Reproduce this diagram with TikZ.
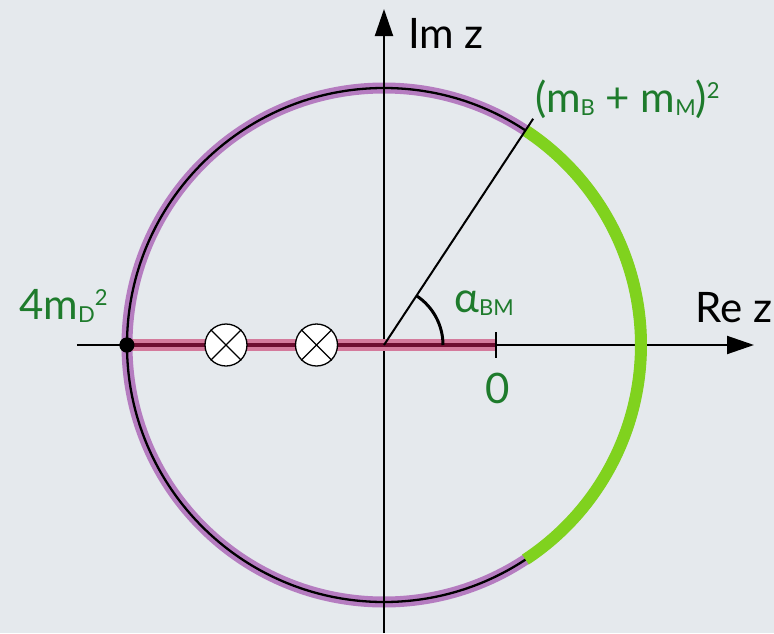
\documentclass[tikz,border=0pt]{standalone}
\usepackage{fontspec}
\setmainfont{Lato}
\usetikzlibrary{arrows.meta}
\definecolor{bgcol}{HTML}{E5E9ED}
\definecolor{ringpurple}{HTML}{B57CC0}
\definecolor{arcgreen}{HTML}{80D21E}
\definecolor{cutpink}{HTML}{D47A9C}
\definecolor{cutdark}{HTML}{6E0D30}
\definecolor{labgreen}{HTML}{1E7B2C}
\newcommand{\lowidx}[1]{\raisebox{-3.5pt}{\fontsize{22}{22}\selectfont #1}}
\newcommand{\highidx}[1]{\raisebox{14pt}{\fontsize{22}{22}\selectfont #1}}

\begin{document}
\begin{tikzpicture}[x=1pt,y=1pt,
    bigtext/.style={font=\fontsize{42}{50}\selectfont, inner sep=0pt, anchor=base west},
    greentext/.style={bigtext, text=labgreen},
    axisline/.style={line width=2pt, -{Triangle[length=27pt,width=18pt]}},
    crossmark/.style={circle, draw, fill=white, line width=1.3pt, minimum size=42pt, inner sep=0pt}]

      % background and frame
      \fill[bgcol] (-384,-288) rectangle (390,345);
      \useasboundingbox (-384,-288) rectangle (390,345);

      \coordinate (O) at (0,0);
      \coordinate (xl) at (-307,0);
      \coordinate (xr) at (370,0);
      \coordinate (yb) at (0,-288);
      \coordinate (yt) at (0,336);
      \coordinate (rayend) at (56.6:271);
      \coordinate (cutend) at (112,0);

      % the circle
      \draw [ringpurple, line width=11pt] (O) circle (257);
      \draw [line width=2.3pt] (O) circle (257);

      % axes
      \draw [axisline] (xl) -- (xr);
      \draw [axisline] (yb) -- (yt);

      % green part of the circle
      \draw [arcgreen, line width=12pt] (-56.6:257) arc (-56.6:56.6:257);

      % cut
      \node [circle, fill, inner sep=0pt, minimum size=15pt] (branch) at (-257,0) {};
      \draw [cutpink, line width=12pt] (branch.center) -- (cutend);
      \draw [cutdark, line width=3.5pt] (branch.center) -- (cutend);
      \draw [line width=2pt] ([yshift=13]cutend) -- ([yshift=-13]cutend);
      \node [circle, fill, inner sep=0pt, minimum size=15pt] at (branch) {};

      % ray and angle
      \draw [line width=2pt] (O) -- (rayend);
      \draw [line width=3pt] (59,0) arc (0:56.6:59);

      % poles
      \node [crossmark] (poleA) at (-158,0) {};
      \draw [line width=1.3pt] (poleA.north east) -- (poleA.south west);
      \draw [line width=1.3pt] (poleA.north west) -- (poleA.south east);
      \node [crossmark] (poleB) at (-67.5,0) {};
      \draw [line width=1.3pt] (poleB.north east) -- (poleB.south west);
      \draw [line width=1.3pt] (poleB.north west) -- (poleB.south east);

      % labels
      \node [bigtext] (imlab) at (24,297) {Im z};
      \node [bigtext] (relab) at (311,23) {Re z};
      \node [greentext] (thrlab) at (151,233) {(m\lowidx{B} + m\lowidx{M})\highidx{2}};
      \node [greentext] (dlab) at (-365,26) {4m\lowidx{D}\highidx{2}};
      \node [greentext] (alab) at (70,33) {α\lowidx{BM}};
      \node [greentext, anchor=base] (zerolab) at (114,-58) {0};

    \end{tikzpicture}
\end{document}
